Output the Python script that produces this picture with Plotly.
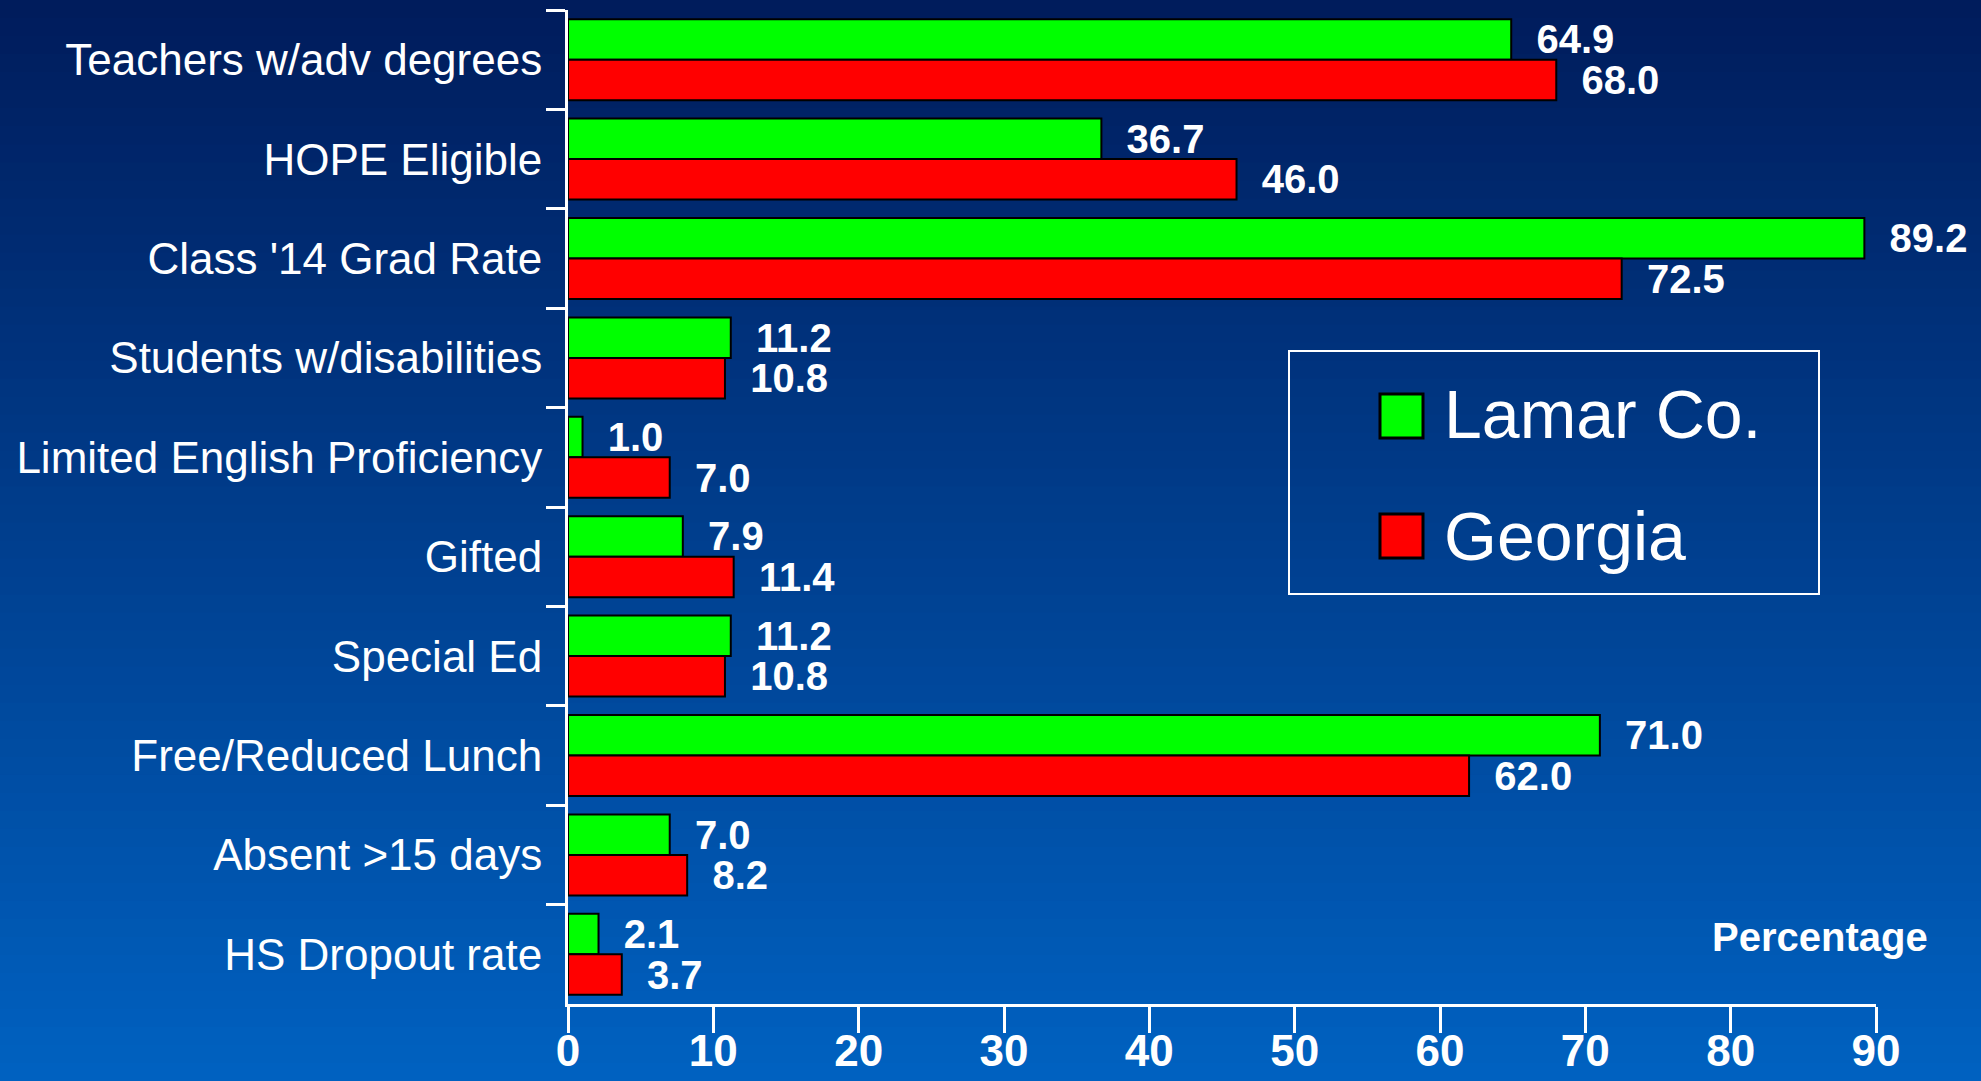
import plotly.graph_objects as go

categories = [
    "Teachers w/adv degrees", "HOPE Eligible", "Class '14 Grad Rate",
    "Students w/disabilities", "Limited English Proficiency", "Gifted",
    "Special Ed", "Free/Reduced Lunch", "Absent >15 days", "HS Dropout rate",
]
lamar = [64.9, 36.7, 89.2, 11.2, 1.0, 7.9, 11.2, 71.0, 7.0, 2.1]
georgia = [68.0, 46.0, 72.5, 10.8, 7.0, 11.4, 10.8, 62.0, 8.2, 3.7]
x_ticks = [0, 10, 20, 30, 40, 50, 60, 70, 80, 90]

NARROW = "Liberation Sans Narrow, Arial Narrow, Liberation Sans, sans-serif"
W, H = 1981, 1081
L, R, T, B = 568, 105, 10, 77
PW, PH = W - L - R, H - T - B


def px_x(px):
    return (px - L) / PW


def px_y(py):
    return (H - B - py) / PH


fig = go.Figure()
for name, vals, color in [("Lamar Co.", lamar, "#00FF00"), ("Georgia", georgia, "#FF0000")]:
    fig.add_trace(go.Bar(
        name=name,
        y=categories,
        x=vals,
        orientation="h",
        marker=dict(color=color, line=dict(color="black", width=2)),
        texttemplate="\u00a0\u00a0%{x:.1f}",
        textposition="outside",
        constraintext="none",
        cliponaxis=False,
        textfont=dict(family=NARROW, size=40, color="white", weight="bold"),
        showlegend=False,
    ))

# background gradient (dark navy at top to brighter blue at bottom)
top, bot = (0, 28, 92), (0, 97, 192)
n = 60
shapes = []
for i in range(n):
    t = i / (n - 1)
    c = tuple(round(top[k] + (bot[k] - top[k]) * t) for k in range(3))
    y0 = i * H / n
    y1 = (i + 1) * H / n + 1
    shapes.append(dict(
        type="rect", xref="paper", yref="paper", layer="below",
        x0=px_x(0), x1=px_x(W), y0=px_y(y1), y1=px_y(y0),
        fillcolor="rgb(%d,%d,%d)" % c, line=dict(width=0),
    ))

# legend box and swatches
shapes.append(dict(type="rect", xref="paper", yref="paper",
                   x0=px_x(1289), x1=px_x(1819), y0=px_y(594), y1=px_y(351),
                   line=dict(color="white", width=2), fillcolor="rgba(0,0,0,0)"))
for y0, color in [(394, "#00FF00"), (514, "#FF0000")]:
    shapes.append(dict(type="rect", xref="paper", yref="paper",
                       x0=px_x(1380), x1=px_x(1423), y0=px_y(y0 + 44), y1=px_y(y0),
                       line=dict(color="black", width=3), fillcolor=color))

annotations = [
    dict(text="Lamar Co.", xref="paper", yref="paper", x=px_x(1442), y=px_y(414),
         xanchor="left", yanchor="middle", showarrow=False,
         font=dict(family=NARROW, size=68, color="white")),
    dict(text="Georgia", xref="paper", yref="paper", x=px_x(1442), y=px_y(536),
         xanchor="left", yanchor="middle", showarrow=False,
         font=dict(family=NARROW, size=68, color="white")),
    dict(text="<b>Percentage</b>", xref="paper", yref="paper", x=px_x(1820), y=px_y(937),
         xanchor="center", yanchor="middle", showarrow=False,
         font=dict(family=NARROW, size=40, color="white")),
]

fig.update_layout(
    width=W, height=H,
    margin=dict(l=L, r=R, t=T, b=B),
    barmode="group",
    bargap=0.185,
    bargroupgap=0,
    paper_bgcolor="rgb(0,60,140)",
    plot_bgcolor="rgba(0,0,0,0)",
    shapes=shapes,
    annotations=annotations,
    xaxis=dict(
        range=[0, 90], tickvals=x_ticks, showgrid=False, zeroline=False,
        automargin=False,
        showline=True, linecolor="white", linewidth=3,
        ticks="outside", ticklen=26, tickwidth=3, tickcolor="white",
        ticklabelstandoff=-20,
        tickfont=dict(family=NARROW, size=44, color="white", weight="bold"),
    ),
    yaxis=dict(
        categoryorder="array", categoryarray=categories, autorange="reversed",
        showgrid=False, zeroline=False, automargin=False,
        showline=True, linecolor="white", linewidth=3,
        ticks="outside", tickson="boundaries", ticklen=19, tickwidth=3, tickcolor="white",
        ticklabelstandoff=14,
        tickfont=dict(family=NARROW, size=44, color="white"),
    ),
)

fig.write_html("out.html", config={"displayModeBar": False},
               post_script="document.body.style.margin='0px';")
